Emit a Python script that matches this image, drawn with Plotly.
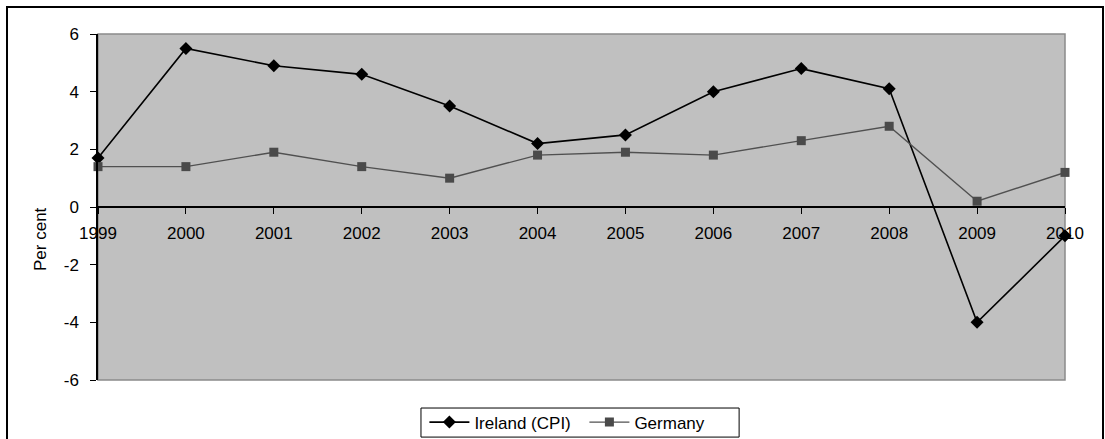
import plotly.graph_objects as go

years = list(range(1999, 2011))
ireland_cpi = [1.7, 5.5, 4.9, 4.6, 3.5, 2.2, 2.5, 4.0, 4.8, 4.1, -4.0, -1.0]
germany = [1.4, 1.4, 1.9, 1.4, 1.0, 1.8, 1.9, 1.8, 2.3, 2.8, 0.2, 1.2]
y_ticks = [-6, -4, -2, 0, 2, 4, 6]
y_tick_text = ["-6", "-4", "-2", "0", "2", "4", "6"]
y_title = "Per cent"

FAMILY = "Liberation Sans, Arial, sans-serif"
font = dict(family=FAMILY, size=17, color="#000000")

fig = go.Figure()
fig.add_trace(go.Scatter(
    x=years, y=ireland_cpi, name="Ireland (CPI)", mode="lines+markers",
    line=dict(color="#000000", width=1.6),
    marker=dict(symbol="diamond", size=10, color="#000000"),
    cliponaxis=False,
))
fig.add_trace(go.Scatter(
    x=years, y=germany, name="Germany", mode="lines+markers",
    line=dict(color="#505050", width=1.4),
    marker=dict(symbol="square", size=9, color="#4a4a4a"),
    cliponaxis=False,
))

fig.update_layout(
    width=1105, height=439,
    margin=dict(l=98, r=40, t=34, b=59, autoexpand=False),
    paper_bgcolor="#ffffff",
    plot_bgcolor="#c0c0c0",
    font=font,
    showlegend=True,
    legend=dict(
        orientation="h", x=0.503, xanchor="center", y=-0.123, yanchor="middle",
        borderwidth=0, bgcolor="rgba(0,0,0,0)",
        font=dict(family=FAMILY, size=17),
        itemwidth=40, tracegroupgap=0,
        entrywidth=105, entrywidthmode="pixels",
    ),
    xaxis=dict(
        range=[1999, 2010], tickvals=years, ticktext=[str(y) for y in years],
        anchor="free", position=0.5,
        showline=True, linecolor="#000000", linewidth=1.5,
        ticks="outside", ticklen=6, tickcolor="#000000", tickwidth=1,
        showgrid=False, zeroline=False, ticklabelstandoff=5,
    ),
    yaxis=dict(
        range=[-6, 6], tickvals=y_ticks, ticktext=y_tick_text,
        showline=True, linecolor="#000000", linewidth=1.5,
        ticks="outside", ticklen=6, tickcolor="#000000", tickwidth=1,
        showgrid=False, zeroline=False, ticklabelstandoff=8,
    ),
    annotations=[
        # y-axis title, set a little below the zero line
        dict(text=y_title, xref="paper", yref="paper", x=-0.060, y=0.4075,
             xanchor="center", yanchor="middle", textangle=-90,
             showarrow=False, font=dict(family=FAMILY, size=17)),
    ],
    shapes=[
        # plot area frame
        dict(type="rect", xref="paper", yref="paper", x0=0, x1=1, y0=0, y1=1,
             line=dict(color="#8a8a8a", width=1.5), layer="below"),
        # outer chart border
        dict(type="rect", xref="paper", yref="paper", x0=-0.0941, x1=1.0393,
             y0=-0.2, y1=1.078, line=dict(color="#000000", width=2)),
        # legend box
        dict(type="rect", xref="paper", yref="paper", x0=0.334, x1=0.663,
             y0=-0.165, y1=-0.081, line=dict(color="#000000", width=1)),
    ],
)

fig.write_html("out.html")
